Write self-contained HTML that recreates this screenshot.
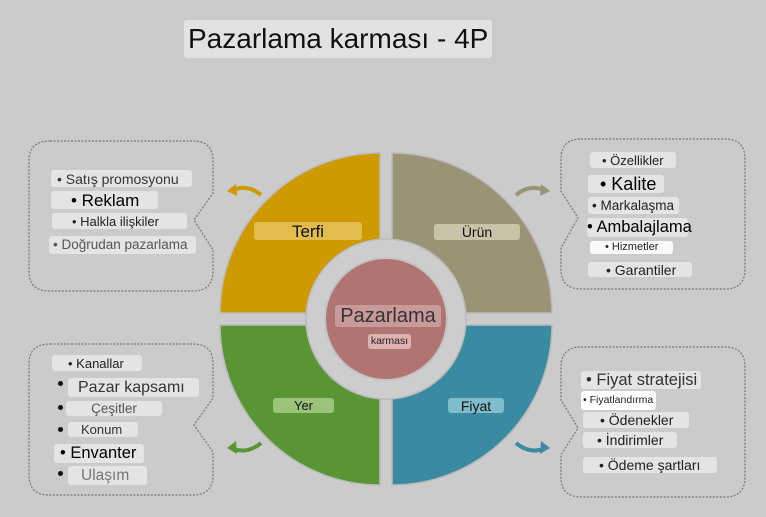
<!DOCTYPE html>
<html><head><meta charset="utf-8"><style>
body{margin:0;width:766px;height:517px;background:#cbcbcb;position:relative;overflow:hidden;font-family:"Liberation Sans","DejaVu Sans",sans-serif}
.p{position:absolute;border-radius:3px;background:#e4e4e4;color:#222;white-space:nowrap;display:flex;align-items:center;box-sizing:border-box;padding-left:6px;line-height:1}
.c{justify-content:center;padding-left:0}
.b{position:absolute;width:5px;height:5px;border-radius:50%;background:#111}
svg{position:absolute;left:0;top:0}
</style></head><body>
<svg width="766" height="517">
<g fill="none" stroke="#777" stroke-width="1.2" stroke-dasharray="2,1.5">
<path d="M50,141 H193 Q213,141 213,161 V193 L194,220 L213,250 V271 Q213,291 193,291 H49 Q29,291 29,271 V161 Q29,141 50,141Z"/>
<path d="M581,139 H725 Q745,139 745,159 V269 Q745,289 725,289 H581 Q561,289 561,269 V248 L578,218 L561,191 V159 Q561,139 581,139Z"/>
<path d="M50,344 H193 Q213,344 213,364 V398 L194,425 L213,452 V475 Q213,495 193,495 H49 Q29,495 29,475 V364 Q29,344 50,344Z"/>
<path d="M581,347 H725 Q745,347 745,367 V477 Q745,497 725,497 H581 Q561,497 561,477 V455 L578,428 L561,400 V367 Q561,347 581,347Z"/>
</g>
<g stroke="#bbb" stroke-width="1.5">
<path d="M380,313 L220,313 A160,160 0 0 1 380,153 Z" fill="#cf9a00"/>
<path d="M392,313 L392,153 A160,160 0 0 1 552,313 Z" fill="#9b9376"/>
<path d="M380,325 L380,485 A160,160 0 0 1 220,325 Z" fill="#5a9535"/>
<path d="M392,325 L552,325 A160,160 0 0 1 392,485 Z" fill="#3a8ba1"/>
</g>
<circle cx="386" cy="319" r="80" fill="#cdcdcd" stroke="#bbb" stroke-width="1.5"/>
<circle cx="386" cy="319" r="61" fill="#b07572" stroke="#c4c4c4" stroke-width="2"/>
<g fill="none" stroke-width="4">
<path d="M261,195 Q248,184 233,190" stroke="#cf9a00"/>
<path d="M516,195 Q529,184 544,190" stroke="#9b9376"/>
<path d="M261,443 Q248,454 233,449" stroke="#5a9535"/>
<path d="M516,443 Q529,454 544,449" stroke="#3a8ba1"/>
</g>
<polygon points="227,191 236,184 237,196" fill="#cf9a00"/>
<polygon points="550,191 541,184 540,196" fill="#9b9376"/>
<polygon points="227,448 236,441 237,454" fill="#5a9535"/>
<polygon points="550,448 541,441 540,454" fill="#3a8ba1"/>
</svg>
<div class="p" style="left:184px;top:20px;height:38px;padding:0 4px;font-size:28px;color:#111;background:#e2e2e2">Pazarlama karması - 4P</div>

<div class="p c" style="left:254px;top:222px;width:108px;height:18px;font-size:17px;background:#e1bd4d;color:#111">Terfi</div>
<div class="p c" style="left:434px;top:224px;width:86px;height:16px;font-size:14px;background:#c9c3aa;color:#111">Ürün</div>
<div class="p c" style="left:273px;top:398px;width:61px;height:15px;font-size:13px;background:#9bc47a;color:#111">Yer</div>
<div class="p c" style="left:448px;top:398px;width:56px;height:15px;font-size:14px;background:#80bccc;color:#111">Fiyat</div>
<div class="p c" style="left:335px;top:305px;width:106px;height:22px;font-size:20px;background:#c99a9a;color:#333">Pazarlama</div>
<div class="p c" style="left:368px;top:334px;width:43px;height:15px;font-size:10.5px;background:#e0b1b1;color:#222">karması</div>

<div class="p" style="left:51px;top:170px;width:141px;height:17px;font-size:14px;color:#333">• Satış promosyonu</div>
<div class="p" style="left:51px;top:191px;width:107px;height:18px;font-size:17px;color:#000;padding-left:20px">• Reklam</div>
<div class="p" style="left:52px;top:213px;width:135px;height:16px;font-size:13px;padding-left:20px">• Halkla ilişkiler</div>
<div class="p" style="left:49px;top:236px;width:147px;height:18px;font-size:13.5px;color:#555;padding-left:4px">• Doğrudan pazarlama</div>

<div class="p" style="left:590px;top:152px;width:86px;height:16px;font-size:13px;padding-left:12px">• Özellikler</div>
<div class="p" style="left:588px;top:175px;width:76px;height:18px;font-size:18px;color:#000;padding-left:12px">• Kalite</div>
<div class="p" style="left:588px;top:197px;width:91px;height:17px;font-size:13.5px;padding-left:4px">• Markalaşma</div>
<div class="p" style="left:587px;top:218px;width:101px;height:19px;font-size:16.5px;color:#000;padding-left:0">• Ambalajlama</div>
<div class="p" style="left:590px;top:241px;width:83px;height:13px;font-size:11px;background:#fafafa;padding-left:15px">• Hizmetler</div>
<div class="p" style="left:588px;top:262px;width:104px;height:15px;font-size:14px;padding-left:18px">• Garantiler</div>

<div class="p" style="left:52px;top:355px;width:90px;height:16px;font-size:13px;padding-left:16px">• Kanallar</div>
<div class="b" style="left:58px;top:381px"></div>
<div class="p" style="left:68px;top:378px;width:131px;height:19px;font-size:16px;color:#333;padding-left:10px">Pazar kapsamı</div>
<div class="b" style="left:58px;top:405px"></div>
<div class="p c" style="left:66px;top:401px;width:96px;height:15px;font-size:13.5px;color:#555">Çeşitler</div>
<div class="b" style="left:58px;top:427px"></div>
<div class="p" style="left:68px;top:422px;width:70px;height:15px;font-size:13px;color:#333;padding-left:13px">Konum</div>
<div class="p" style="left:54px;top:444px;width:90px;height:19px;font-size:16.5px;color:#000;padding-left:6px">• Envanter</div>
<div class="b" style="left:58px;top:471px"></div>
<div class="p" style="left:68px;top:466px;width:79px;height:19px;font-size:15.5px;color:#777;padding-left:13px">Ulaşım</div>

<div class="p" style="left:581px;top:371px;width:120px;height:18px;font-size:16.5px;color:#333;padding-left:5px">• Fiyat stratejisi</div>
<div class="p" style="left:581px;top:391px;width:75px;height:19px;font-size:10.5px;background:#fff;padding-left:2px">• Fiyatlandırma</div>
<div class="p" style="left:583px;top:412px;width:106px;height:16px;font-size:14px;padding-left:17px">• Ödenekler</div>
<div class="p" style="left:583px;top:432px;width:94px;height:16px;font-size:14px;padding-left:14px">• İndirimler</div>
<div class="p" style="left:583px;top:457px;width:134px;height:16px;font-size:14px;padding-left:16px">• Ödeme şartları</div>
</body></html>
